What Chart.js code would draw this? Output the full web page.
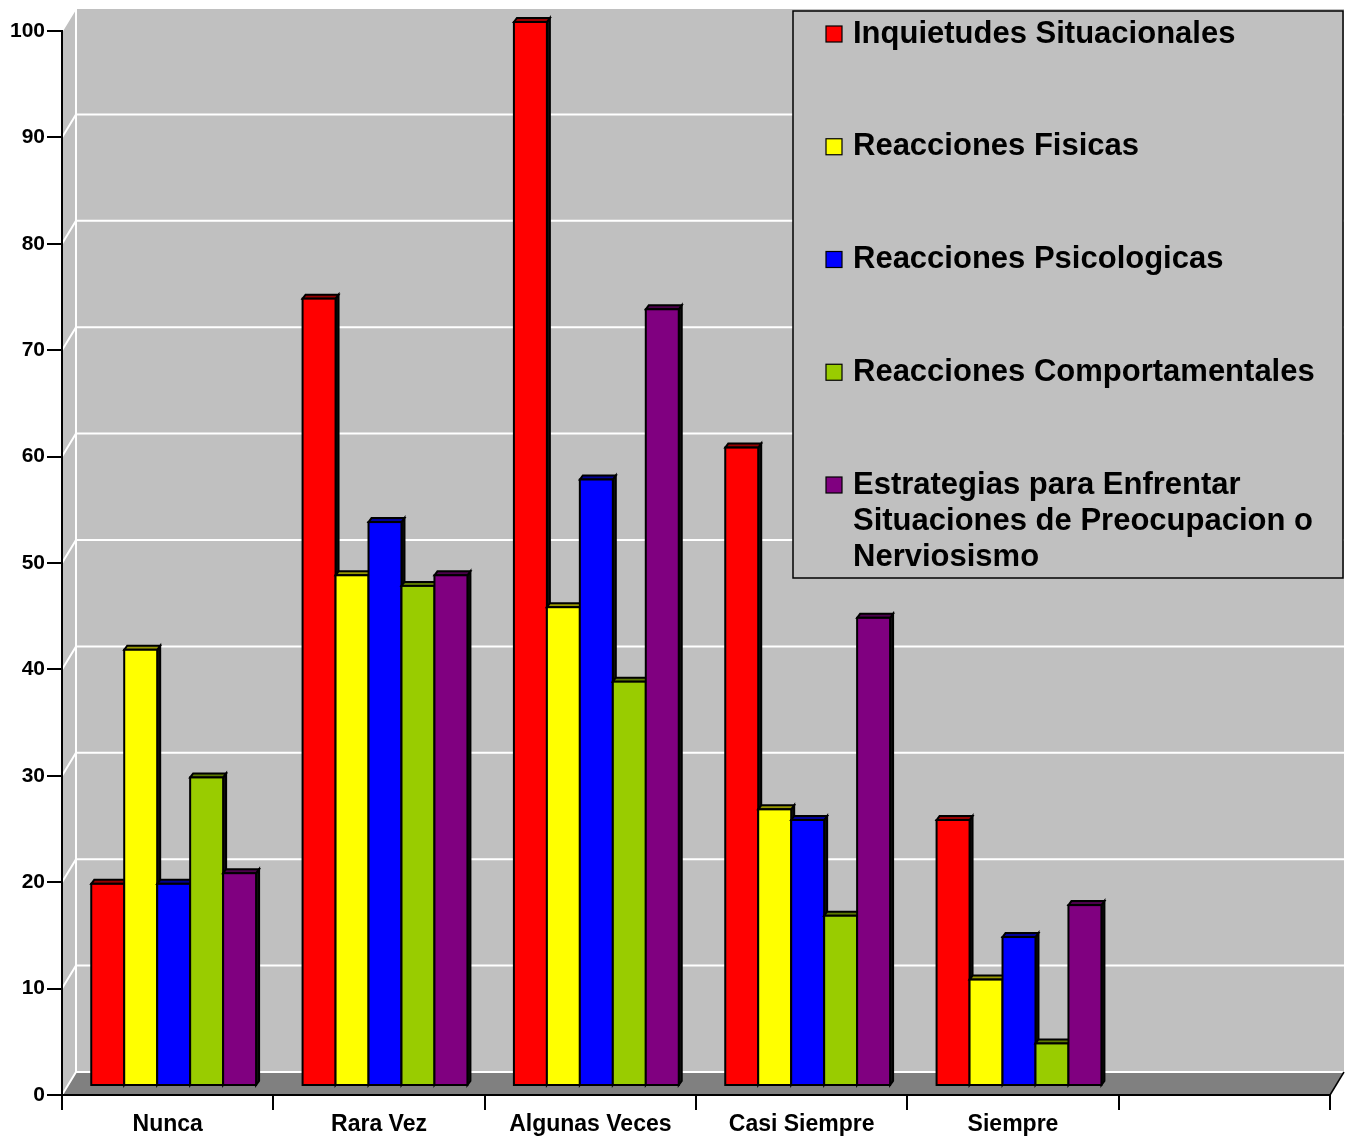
<!DOCTYPE html>
<html>
<head>
<meta charset="utf-8">
<script src="https://cdn.jsdelivr.net/npm/chart.js@4.4.1/dist/chart.umd.min.js"></script>
<style>
  html, body { margin: 0; padding: 0; background: #fff; }
  #wrap { width: 1351px; height: 1142px; position: relative; }
</style>
</head>
<body>
<div id="wrap"><canvas id="c" width="1351" height="1142"></canvas></div>
<script>
// Categories (the sixth slot is left empty on purpose)
const categories = ['Nunca', 'Rara Vez', 'Algunas Veces', 'Casi Siempre', 'Siempre', ''];

const seriesNames = [
  'Inquietudes Situacionales',
  'Reacciones Fisicas',
  'Reacciones Psicologicas',
  'Reacciones Comportamentales',
  'Estrategias para Enfrentar Situaciones de Preocupacion o Nerviosismo'
];

// Series values per category
const inquietudes      = [19, 74, 100, 60, 25];
const fisicas          = [41, 48, 45, 26, 10];
const psicologicas     = [19, 53, 57, 25, 14];
const comportamentales = [29, 47, 38, 16, 4];
const estrategias      = [20, 48, 73, 44, 17];

// Value axis ticks
const yTicks = [0, 10, 20, 30, 40, 50, 60, 70, 80, 90, 100];

const seriesValues = [inquietudes, fisicas, psicologicas, comportamentales, estrategias];
const faceColors = ['#ff0000', '#ffff00', '#0000ff', '#99cc00', '#800080'];
const capColors  = ['#990000', '#999900', '#000099', '#5c7a00', '#4d004d'];

const FONT = '"Liberation Sans", Arial, Helvetica, sans-serif';
const WALL = { dx: 14, dy: 23 };   // depth of the back wall
const SHIFT = { dx: 6, dy: 9 };    // bars sit part-way into the depth
const CAP = { dx: 3, dy: 4 };      // bar top / side thickness

function wrapText(ctx, text, maxW) {
  const words = text.split(' ');
  const lines = [];
  let cur = '';
  words.forEach(w => {
    const test = cur ? cur + ' ' + w : w;
    if (ctx.measureText(test).width > maxW && cur) {
      lines.push(cur);
      cur = w;
    } else {
      cur = test;
    }
  });
  if (cur) lines.push(cur);
  return lines;
}

const scenePlugin = {
  id: 'scene3d',
  beforeDraw(chart) {
    const { ctx, chartArea: a, scales: { y } } = chart;
    const L = a.left, R = a.right, T = a.top, B = a.bottom;
    const dx = WALL.dx, dy = WALL.dy;
    ctx.save();
    // side wall + back wall
    ctx.fillStyle = '#c0c0c0';
    ctx.beginPath();
    ctx.moveTo(L, T); ctx.lineTo(L + dx, T - dy); ctx.lineTo(L + dx, B - dy); ctx.lineTo(L, B);
    ctx.closePath(); ctx.fill();
    ctx.fillRect(L + dx, T - dy, R - L, B - T);
    // floor
    ctx.fillStyle = '#808080';
    ctx.beginPath();
    ctx.moveTo(L, B); ctx.lineTo(R, B); ctx.lineTo(R + dx, B - dy); ctx.lineTo(L + dx, B - dy);
    ctx.closePath(); ctx.fill();
    // white gridlines on side and back wall
    ctx.strokeStyle = '#ffffff';
    ctx.lineWidth = 2;
    y.ticks.forEach(t => {
      const py = y.getPixelForValue(t.value);
      ctx.beginPath();
      ctx.moveTo(L, py); ctx.lineTo(L + dx, py - dy); ctx.lineTo(R + dx, py - dy);
      ctx.stroke();
    });
    ctx.beginPath();
    ctx.moveTo(L + dx, T - dy); ctx.lineTo(L + dx, B - dy);
    ctx.stroke();
    // right edge of the floor
    ctx.strokeStyle = '#000';
    ctx.lineWidth = 1.5;
    ctx.beginPath();
    ctx.moveTo(R, B); ctx.lineTo(R + dx, B - dy);
    ctx.stroke();
    ctx.restore();
  },
  beforeDatasetsDraw(chart) {
    chart.ctx.save();
    chart.ctx.translate(SHIFT.dx, -SHIFT.dy);
  },
  afterDatasetsDraw(chart) {
    const ctx = chart.ctx;
    ctx.lineJoin = 'miter';
    chart.data.datasets.forEach((ds, i) => {
      const meta = chart.getDatasetMeta(i);
      meta.data.forEach(bar => {
        const { x, y, base, width } = bar.getProps(['x', 'y', 'base', 'width'], true);
        if (!isFinite(y)) return;
        const l = x - width / 2, r = x + width / 2;
        ctx.lineWidth = 2;
        ctx.strokeStyle = '#000';
        // side face
        ctx.fillStyle = '#111';
        ctx.beginPath();
        ctx.moveTo(r, y); ctx.lineTo(r + CAP.dx, y - CAP.dy); ctx.lineTo(r + CAP.dx, base - CAP.dy); ctx.lineTo(r, base);
        ctx.closePath(); ctx.fill(); ctx.stroke();
        // top cap
        ctx.fillStyle = capColors[i];
        ctx.beginPath();
        ctx.moveTo(l, y); ctx.lineTo(l + CAP.dx, y - CAP.dy); ctx.lineTo(r + CAP.dx, y - CAP.dy); ctx.lineTo(r, y);
        ctx.closePath(); ctx.fill(); ctx.stroke();
        // front face
        ctx.fillStyle = faceColors[i];
        ctx.fillRect(l, y, width, base - y);
        ctx.strokeRect(l, y, width, base - y);
      });
    });
    ctx.restore();
  },
  afterDraw(chart) {
    const ctx = chart.ctx;
    const box = { x: 793, y: 11, w: 550, h: 567 };
    ctx.save();
    ctx.fillStyle = '#c0c0c0';
    ctx.fillRect(box.x, box.y, box.w, box.h);
    ctx.strokeStyle = '#000';
    ctx.lineWidth = 1.5;
    ctx.strokeRect(box.x, box.y, box.w, box.h);
    ctx.font = 'bold 31px ' + FONT;
    ctx.textBaseline = 'middle';
    ctx.textAlign = 'left';
    const textX = 853, markX = 826, mark = 16;
    const firstY = 33, step = 112.75, lineH = 36;
    chart.data.datasets.forEach((ds, i) => {
      const cy = firstY + i * step;
      ctx.fillStyle = faceColors[i];
      ctx.fillRect(markX, cy - mark / 2 + 1, mark, mark);
      ctx.lineWidth = 1.2;
      ctx.strokeStyle = '#000';
      ctx.strokeRect(markX, cy - mark / 2 + 1, mark, mark);
      ctx.fillStyle = '#000';
      const lines = wrapText(ctx, ds.label, 480);
      lines.forEach((ln, k) => ctx.fillText(ln, textX, cy + k * lineH + 1));
    });
    ctx.restore();
  }
};

new Chart(document.getElementById('c'), {
  type: 'bar',
  data: {
    labels: categories,
    datasets: seriesValues.map((vals, i) => ({
      label: seriesNames[i],
      data: vals,
      backgroundColor: faceColors[i],
      borderColor: '#000',
      borderWidth: 2,
      categoryPercentage: 0.78,
      barPercentage: 1,
      clip: false
    }))
  },
  options: {
    responsive: false,
    animation: false,
    events: [],
    layout: { padding: { top: 31, right: 21, left: 0, bottom: 0 } },
    plugins: { legend: { display: false }, tooltip: { enabled: false } },
    scales: {
      x: {
        grid: { offset: true, drawOnChartArea: false, tickLength: 15, color: '#000', lineWidth: 2 },
        border: { color: '#000', width: 2 },
        ticks: { color: '#000', font: { family: FONT, size: 23, weight: 'bold' }, padding: 1, maxRotation: 0, autoSkip: false },
        afterFit(s) { s.height = 47; }
      },
      y: {
        min: yTicks[0],
        max: yTicks[yTicks.length - 1],
        afterBuildTicks(s) { s.ticks = yTicks.map(v => ({ value: v })); },
        ticks: { color: '#000', font: { family: FONT, size: 21, weight: 'bold' }, padding: 2 },
        grid: { drawOnChartArea: false, tickLength: 15, color: '#000', lineWidth: 2 },
        border: { color: '#000', width: 2 },
        afterFit(s) { s.width = 62; }
      }
    }
  },
  plugins: [scenePlugin]
});
</script>
</body>
</html>
